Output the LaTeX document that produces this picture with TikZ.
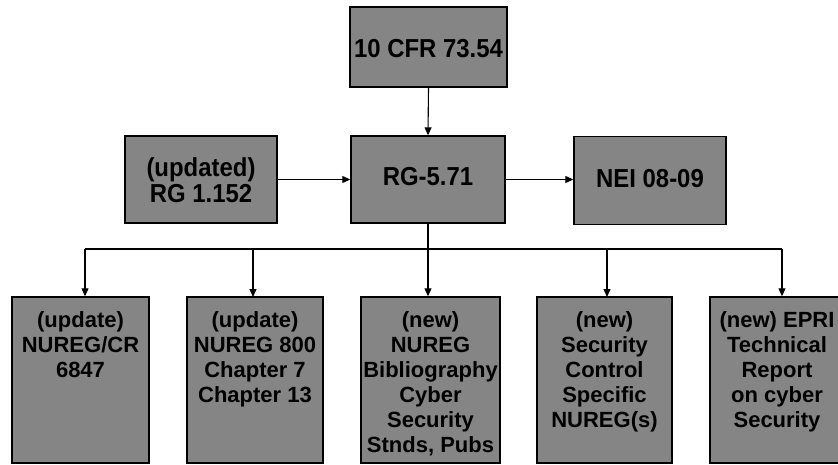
\documentclass[tikz,border=0pt]{standalone}
\usepackage{fontspec}
\setmainfont{Liberation Sans}
\newfontfamily\condsans{Liberation Sans}[FakeStretch=0.92]
\usetikzlibrary{arrows.meta}
\begin{document}
\begin{tikzpicture}[x=1pt,y=-1pt,
  box/.style={draw=black,line width=1.4pt,fill=black!48,inner sep=0pt},
  bigtxt/.style={font=\condsans\bfseries\fontsize{26}{26}\selectfont,align=center,text=black,inner sep=0pt},
  smalltxt/.style={font=\bfseries\fontsize{22}{25}\selectfont,align=center,text=black,inner sep=0pt,anchor=north},
  conn/.style={line width=1.1pt,draw=black},
  arr/.style={conn,-{Triangle[length=8pt,width=7pt]}}]
\useasboundingbox (0,0) rectangle (838,465);
\clip (0,0) rectangle (838,465);
% top
\node[box,minimum width=157,minimum height=80] (cfr) at (428.5,47) {};
\node[bigtxt] (cfrt) at (428.5,49) {10 CFR 73.54};
% middle row
\node[box,minimum width=152,minimum height=87] (rg1152) at (201,179.5) {};
\node[bigtxt] (rg1152t) at (201,180) {(updated)\\RG 1.152};
\node[box,minimum width=154,minimum height=87] (rg571) at (428,179.5) {};
\node[bigtxt] (rg571t) at (428,177) {RG-5.71};
\node[box,minimum width=152,minimum height=88] (nei) at (650,180.5) {};
\node[bigtxt] (neit) at (650,179) {NEI 08-09};
% bottom row
\node[box,minimum width=137,minimum height=166] (b1) at (80.5,380) {};
\node[smalltxt] (b1t) at (80.5,311) {(update)\\NUREG/CR\\6847};
\node[box,minimum width=136,minimum height=166] (b2) at (255,380) {};
\node[smalltxt] (b2t) at (255,311) {(update)\\NUREG 800\\Chapter 7\\Chapter 13};
\node[box,minimum width=139,minimum height=166] (b3) at (430.5,380) {};
\node[smalltxt] (b3t) at (430.5,311) {(new)\\NUREG\\Bibliography\\Cyber\\Security\\Stnds, Pubs};
\node[box,minimum width=135,minimum height=166] (b4) at (604.5,380) {};
\node[smalltxt] (b4t) at (604.5,311) {(new)\\Security\\Control\\Specific\\NUREG(s)};
\node[box,minimum width=140,minimum height=166] (b5) at (780,380) {};
\node[smalltxt] (b5t) at (777,311) {(new) EPRI\\Technical\\Report\\on cyber\\Security};
% connectors
\draw[arr] (cfr.south) -- (rg571.north);
\draw[arr] (rg1152.east) -- (rg571.west);
\draw[arr] (rg571.east) -- (rg571.east -| nei.west);
\coordinate (bus) at (428,249);
\coordinate (busL) at (85,249);
\coordinate (busR) at (782,249);
\draw[conn] (rg571.south) -- (bus);
\draw[conn] (busL) -- (busR);
\draw[arr] (busL) -- (busL |- b1.north);
\draw[arr] (253,249) -- (253,297);
\draw[arr] (bus) -- (b3.north -| bus);
\draw[arr] (607,249) -- (607,297);
\draw[arr] (busR) -- (busR |- b5.north);
\end{tikzpicture}
\end{document}
